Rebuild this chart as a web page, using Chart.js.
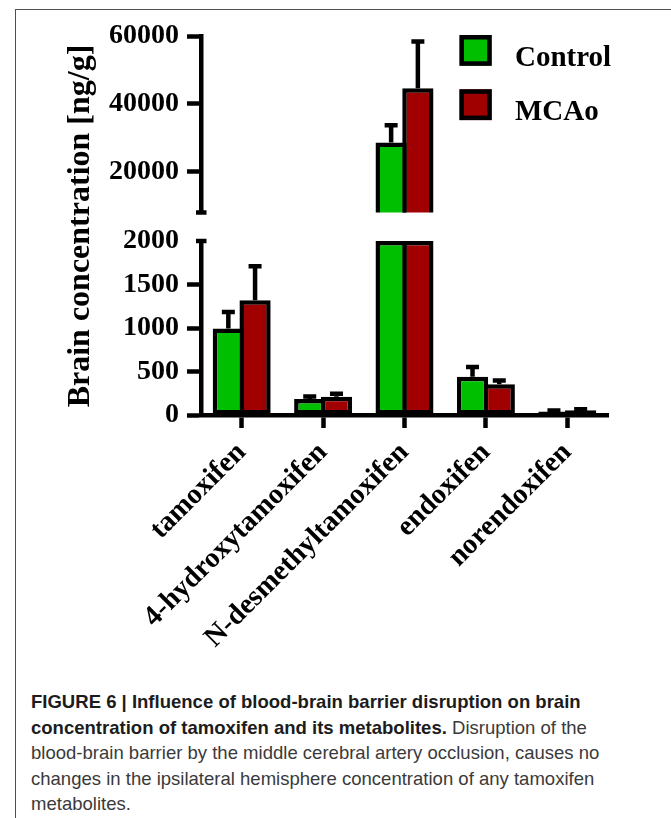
<!DOCTYPE html>
<html>
<head>
<meta charset="utf-8">
<title>Brain concentration of tamoxifen and metabolites</title>
<script src="https://cdn.jsdelivr.net/npm/chart.js@4.4.1/dist/chart.umd.min.js"></script>
<style>
  html, body { margin: 0; padding: 0; background: #fff; }
  body { width: 671px; height: 818px; position: relative; overflow: hidden; }
  #frame { position: absolute; left: 15px; top: 9px; right: -2px; bottom: -2px;
           border-top: 1px solid #505050; border-left: 1px solid #505050; }
  #wrap { position: absolute; left: 0; top: 0; width: 671px; height: 680px; }
  #caption { position: absolute; left: 31px; top: 689px; white-space: nowrap;
             font-family: "Liberation Sans", Arial, sans-serif; font-size: 19px;
             line-height: 25.5px; color: #3a3a3a; transform: scaleX(0.975); transform-origin: 0 0; }
  #caption b { color: #1c1c1c; }
</style>
</head>
<body>
<div id="frame"></div>
<div id="wrap"><canvas id="chart" width="671" height="680"></canvas></div>
<div id="caption">
  <b>FIGURE 6 | Influence of blood-brain barrier disruption on brain</b><br>
  <b>concentration of tamoxifen and its metabolites.</b> Disruption of the<br>
  blood-brain barrier by the middle cerebral artery occlusion, causes no<br>
  changes in the ipsilateral hemisphere concentration of any tamoxifen<br>
  metabolites.
</div>
<script>
// Compounds measured in brain tissue
const CATEGORIES = ['tamoxifen', '4-hydroxytamoxifen', 'N-desmethyltamoxifen', 'endoxifen', 'norendoxifen'];
const SERIES_NAMES = ['Control', 'MCAo'];

// Mean brain concentration [ng/g] and SEM per group
const CONTROL_MEAN = [995, 184, 28600, 440, 40];
const CONTROL_SEM  = [190, 30, 5100, 112, 12];
const MCAO_MEAN    = [1320, 210, 44600, 353, 55];
const MCAO_SEM     = [390, 35, 13800, 44, 10];

// Broken y axis: lower segment 0-2000, upper segment 8000-60000
const LOW_TICKS  = [0, 500, 1000, 1500, 2000];
const HIGH_TICKS = [20000, 40000, 60000];
const LOW_MIN = 0, LOW_MAX = 2000;
const HIGH_MIN = 8000, HIGH_MAX = 60000;

const GREEN = '#00bf00';
const RED = '#a00000';
const INK = '#000000';
const LINE_W = 4.5;
const SERIF = "'Liberation Serif', 'Times New Roman', serif";

// part of each bar shown in the lower and upper segment
const lowPart = arr => arr.map(v => Math.min(v, LOW_MAX));
const highPart = arr => arr.map(v => (v > HIGH_MIN ? v : null));

function barSet(label, means, sems, color, axis, stack, part) {
  return {
    label, data: part(means), mean: means, sem: sems,
    yAxisID: axis, stack,
    backgroundColor: color, borderColor: INK, borderWidth: LINE_W,
    borderSkipped: false,
    categoryPercentage: 0.657, barPercentage: 1.168
  };
}

// SEM whiskers above each bar
const errorBars = {
  id: 'errorBars',
  afterDatasetsDraw(chart) {
    const ctx = chart.ctx;
    ctx.save();
    ctx.strokeStyle = INK;
    ctx.lineWidth = LINE_W;
    ctx.lineCap = 'butt';
    chart.data.datasets.forEach((ds, i) => {
      const meta = chart.getDatasetMeta(i);
      const scale = chart.scales[ds.yAxisID];
      meta.data.forEach((bar, j) => {
        if (ds.data[j] == null) return;
        const m = ds.mean[j];
        if (m > scale.max) return;
        const yTop = scale.getPixelForValue(m + ds.sem[j]);
        const half = 6.5;
        ctx.beginPath();
        ctx.moveTo(bar.x, bar.y);
        ctx.lineTo(bar.x, yTop);
        ctx.moveTo(bar.x - half, yTop);
        ctx.lineTo(bar.x + half, yTop);
        ctx.stroke();
      });
    });
    ctx.restore();
  }
};

// end caps where the y axis is broken
const axisBreak = {
  id: 'axisBreak',
  afterDraw(chart) {
    const {ctx} = chart;
    const low = chart.scales.yLow, high = chart.scales.yHigh;
    const x = low.right;
    ctx.save();
    ctx.strokeStyle = INK;
    ctx.lineWidth = LINE_W;
    [high.getPixelForValue(HIGH_MIN), low.getPixelForValue(LOW_MAX)].forEach(y => {
      ctx.beginPath();
      ctx.moveTo(x - 5, y);
      ctx.lineTo(x + 5.5, y);
      ctx.stroke();
    });
    ctx.restore();
  }
};

// y axis title spanning both segments
const yTitle = {
  id: 'yTitle',
  afterDraw(chart) {
    const {ctx, chartArea} = chart;
    ctx.save();
    ctx.translate(chartArea.left - 120.5, (chartArea.top + chartArea.bottom) / 2 + 0.5);
    ctx.rotate(-Math.PI / 2);
    ctx.font = 'bold 32px ' + SERIF;
    ctx.fillStyle = INK;
    ctx.textAlign = 'center';
    ctx.textBaseline = 'middle';
    ctx.fillText('Brain concentration [ng/g]', 0, 0);
    ctx.restore();
  }
};

// legend: two swatches stacked at the upper right
const boxLegend = {
  id: 'boxLegend',
  afterDraw(chart) {
    const {ctx} = chart;
    const colors = [GREEN, RED];
    ctx.save();
    SERIES_NAMES.forEach((name, i) => {
      const x = 459.5, y = 35 + i * 54.3, w = 32.2, h = 30.8;
      ctx.fillStyle = colors[i];
      ctx.fillRect(x, y, w, h);
      ctx.strokeStyle = INK;
      ctx.lineWidth = LINE_W;
      ctx.strokeRect(x + LINE_W / 2, y + LINE_W / 2, w - LINE_W, h - LINE_W);
      ctx.font = 'bold 29px ' + SERIF;
      ctx.fillStyle = INK;
      ctx.textAlign = 'left';
      ctx.textBaseline = 'alphabetic';
      ctx.fillText(name, 515, y + 30.7);
    });
    ctx.restore();
  }
};

const tickFont = {family: SERIF, size: 28, weight: 'bold'};
const Y_AXIS_WIDTH = 201;

function yScale(extra) {
  return Object.assign({
    type: 'linear',
    position: 'left',
    stack: 'brain',
    stacked: false,
    grid: {drawOnChartArea: false, tickLength: 14, tickWidth: LINE_W, tickColor: INK},
    border: {display: true, color: INK, width: LINE_W},
    ticks: {font: tickFont, color: INK, padding: 8, callback: v => String(v)},
    afterFit: s => { s.width = Y_AXIS_WIDTH; }
  }, extra);
}

new Chart(document.getElementById('chart'), {
  type: 'bar',
  data: {
    labels: CATEGORIES,
    datasets: [
      barSet(SERIES_NAMES[0], CONTROL_MEAN, CONTROL_SEM, GREEN, 'yLow', 'control', lowPart),
      barSet(SERIES_NAMES[1], MCAO_MEAN, MCAO_SEM, RED, 'yLow', 'mcao', lowPart),
      barSet(SERIES_NAMES[0], CONTROL_MEAN, CONTROL_SEM, GREEN, 'yHigh', 'control', highPart),
      barSet(SERIES_NAMES[1], MCAO_MEAN, MCAO_SEM, RED, 'yHigh', 'mcao', highPart)
    ]
  },
  options: {
    responsive: false,
    animation: false,
    layout: {padding: {top: 36, right: 63, bottom: 0, left: 0}},
    plugins: {legend: {display: false}, tooltip: {enabled: false}},
    scales: {
      x: {
        type: 'category',
        offset: true,
        grid: {drawOnChartArea: false, offset: false, tickLength: 13, tickWidth: LINE_W, tickColor: INK},
        border: {display: true, color: INK, width: LINE_W},
        ticks: {font: {family: SERIF, size: 28.5, weight: 'bold'}, color: INK,
                minRotation: 45, maxRotation: 45, autoSkip: false, padding: 8},
        afterFit: s => { s.height = 265; }
      },
      yHigh: yScale({
        min: HIGH_MIN, max: HIGH_MAX, weight: 3, stackWeight: 176.5,
        afterBuildTicks: s => { s.ticks = HIGH_TICKS.map(v => ({value: v})); }
      }),
      yGap: {
        type: 'linear', position: 'left', stack: 'brain', stackWeight: 28.5, weight: 2,
        display: false
      },
      yLow: yScale({
        min: LOW_MIN, max: LOW_MAX, weight: 1, stackWeight: 174,
        afterBuildTicks: s => { s.ticks = LOW_TICKS.map(v => ({value: v})); },
        grid: {drawOnChartArea: false, tickLength: 14, tickWidth: LINE_W,
               tickColor: c => (c.tick && c.tick.value === LOW_MAX ? 'rgba(0,0,0,0)' : INK)}
      })
    }
  },
  plugins: [errorBars, axisBreak, yTitle, boxLegend]
});
</script>
</body>
</html>
